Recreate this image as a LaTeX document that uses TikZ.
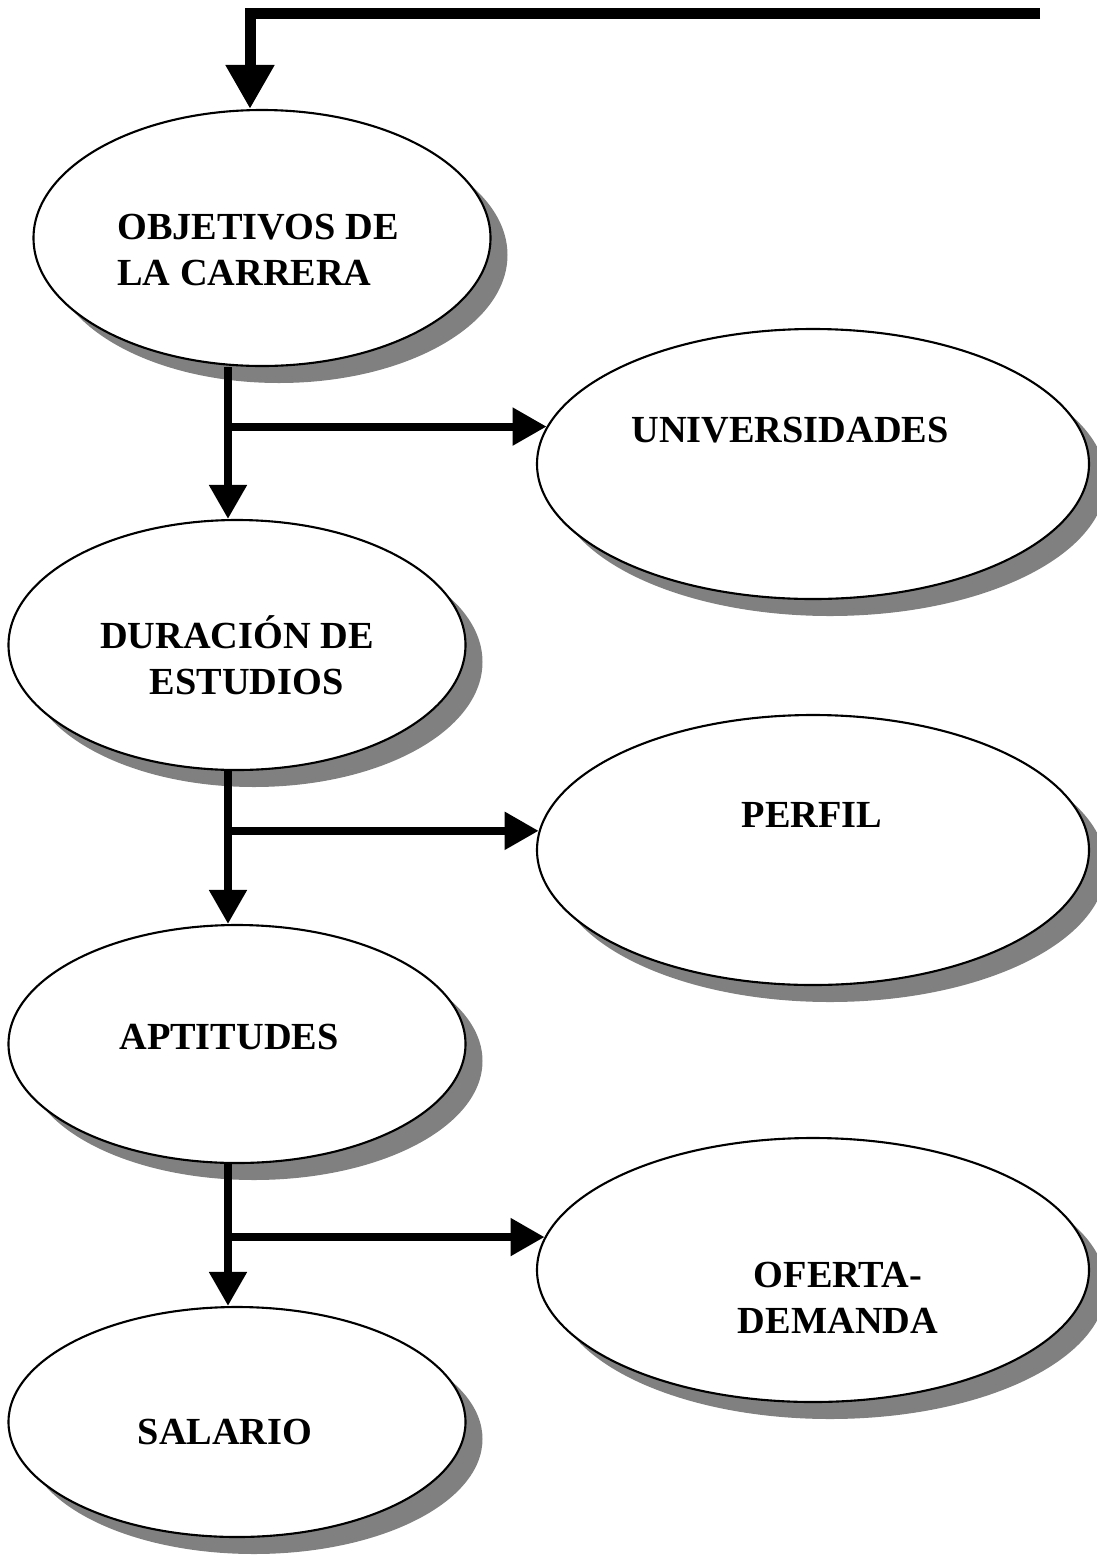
\documentclass[tikz,border=0pt]{standalone}
\usepackage{fontspec}
\setmainfont{Liberation Serif}
\usepackage{tikz}
\usetikzlibrary{shapes,arrows.meta,positioning,calc,shadows}

\begin{document}
\begin{tikzpicture}[
    elipse/.style={ellipse, draw, fill=white, line width=0.6pt, inner sep=0pt,
      drop shadow={shadow xshift=0.17cm, shadow yshift=-0.17cm, fill=black!50, opacity=1}},
    izq/.style={elipse, minimum width=4.57cm},
    der/.style={elipse, minimum width=5.52cm, minimum height=2.70cm},
    texto/.style={font=\fontsize{10.9}{13.1}\selectfont\bfseries, align=center, inner sep=0pt},
    flecha/.style={-{Triangle[width=0.36cm, length=0.34cm]}, line width=0.08cm},
    flechagrande/.style={-{Triangle[width=0.46cm, length=0.44cm]}, line width=0.11cm, line join=miter}
]
\useasboundingbox (0,0) rectangle (10.97,-15.61);

% columna izquierda
\node[izq, minimum height=2.56cm] (obj) at (2.62,-2.38) {};
\node[izq, minimum height=2.50cm] (dur) at (2.37,-6.45) {};
\node[izq, minimum height=2.38cm] (apt) at (2.37,-10.44) {};
\node[izq, minimum height=2.30cm] (sal) at (2.37,-14.22) {};
% columna derecha
\node[der] (univ) at (8.13,-4.64) {};
\node[der] (perf) at (8.13,-8.50) {};
\node[der, minimum height=2.64cm] (ofer) at (8.13,-12.70) {};

% textos
\node[texto, align=left] (tobj) at (2.58,-2.50) {OBJETIVOS DE\\LA CARRERA};
\node[texto] (tdur) at (2.37,-6.55) {DURACIÓN DE\\\hspace*{0.5em}ESTUDIOS};
\node[texto] (tapt) at (2.29,-10.37) {APTITUDES};
\node[texto] (tsal) at (2.25,-14.32) {SALARIO};
\node[texto] (tuniv) at (7.90,-4.30) {UNIVERSIDADES};
\node[texto] (tperf) at (8.12,-8.15) {PERFIL};
\node[texto] (tofer) at (8.38,-12.98) {OFERTA-\\DEMANDA};

% conectores
\coordinate (ini) at (10.40,-0.13);
\coordinate (esq) at (2.50,-0.13);
\coordinate (tronco) at (2.28,0);
\draw[flechagrande] (ini) -- (esq) -- (esq |- obj.north);

\draw[flecha] (tronco |- obj.south) -- (tronco |- dur.north);
\draw[flecha] (tronco |- univ.172) -- (univ.172);
\draw[flecha] (tronco |- dur.south) -- (tronco |- apt.north);
\draw[flecha] (tronco |- perf.176) -- (perf.176);
\draw[flecha] (tronco |- apt.south) -- (tronco |- sal.north);
\draw[flecha] (tronco |- ofer.173) -- (ofer.173);
\end{tikzpicture}
\end{document}
